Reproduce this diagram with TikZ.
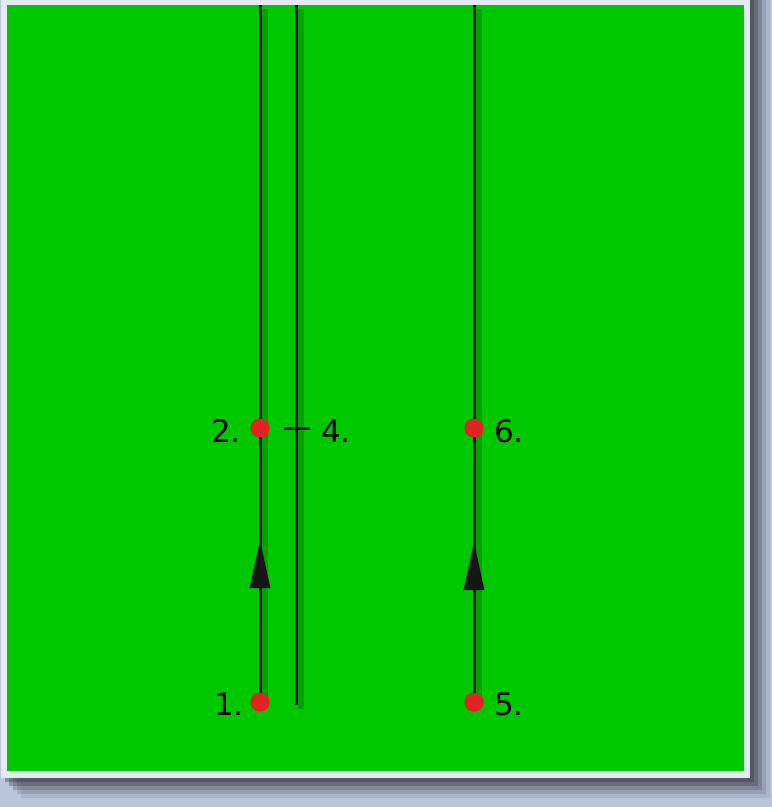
\documentclass[tikz,border=0pt]{standalone}
\usepackage{fontspec}
\setmainfont{DejaVu Sans}
\usetikzlibrary{arrows.meta}
\definecolor{bgblue}{HTML}{B8C5DB}
\definecolor{frame}{HTML}{E4EAF2}
\definecolor{field}{HTML}{00C800}
\definecolor{dotred}{HTML}{E02424}
\definecolor{ink}{HTML}{161616}
\tikzset{
  wire/.style={draw=ink, line width=3pt},
  wireshadow/.style={draw=black, opacity=0.18, line width=6pt},
  dot/.style={circle, fill=dotred, inner sep=0pt, minimum size=19pt},
  lab/.style={font=\fontsize{31}{36}\selectfont, text=black, inner sep=0pt},
  arrowhead/.style={-{Triangle[length=48pt,width=20pt]}, draw=ink, line width=3pt, fill=ink},
}
\begin{document}
\begin{tikzpicture}[x=1pt,y=-1pt]
\useasboundingbox (0,0) rectangle (772,807);
% background and window frame
\fill[bgblue] (0,0) rectangle (772,807);
\foreach \o/\a in {20/0.10,16/0.15,12/0.22,8/0.3,4/0.35}{
  \fill[black!75!bgblue, opacity=\a] (1+\o,0) rectangle (750+\o,778+\o);
}
\fill[frame] (1,0) rectangle (750,778);
\fill[field] (7,5) rectangle (744,771);
% coordinates
\coordinate (topA) at (260,5);
\coordinate (topB) at (296,5);
\coordinate (topC) at (474,5);
\coordinate (botB) at (296,705);
\coordinate (tickL) at (284,428);
\coordinate (tickR) at (310,428);
\coordinate (tipA) at (260,540);
\coordinate (tipC) at (474,542);
% shadows of wires
\draw[wireshadow] ([shift={(5,4)}]topA) -- ([shift={(5,4)}]260,702);
\draw[wireshadow] ([shift={(5,4)}]topB) -- ([shift={(5,4)}]botB);
\draw[wireshadow] ([shift={(5,4)}]topC) -- ([shift={(5,4)}]474,702);
% nodes
\node[dot] (p1) at (260,702) {};
\node[dot] (p2) at (260,428) {};
\node[dot] (p5) at (474,702) {};
\node[dot] (p6) at (474,428) {};
% wires
\draw[wire] (topA) -- (p2.center) -- (p1.center);
\draw[wire] (topB) -- (botB);
\draw[wire] (topC) -- (p6.center) -- (p5.center);
\draw[wire] (tickL) -- (tickR);
% arrows
\draw[arrowhead] (p1.center) -- (tipA);
\draw[arrowhead] (p5.center) -- (tipC);
% redraw dots on top
\node[dot] at (p1) {};
\node[dot] at (p2) {};
\node[dot] at (p5) {};
\node[dot] at (p6) {};
% labels
\node[lab, anchor=east] (l2) at (241,431) {2.};
\node[lab, anchor=east] (l1) at (244,704) {1.};
\node[lab, anchor=west] (l4) at (321,431) {4.};
\node[lab, anchor=west] (l6) at (494,431) {6.};
\node[lab, anchor=west] (l5) at (494,704) {5.};
\end{tikzpicture}
\end{document}
